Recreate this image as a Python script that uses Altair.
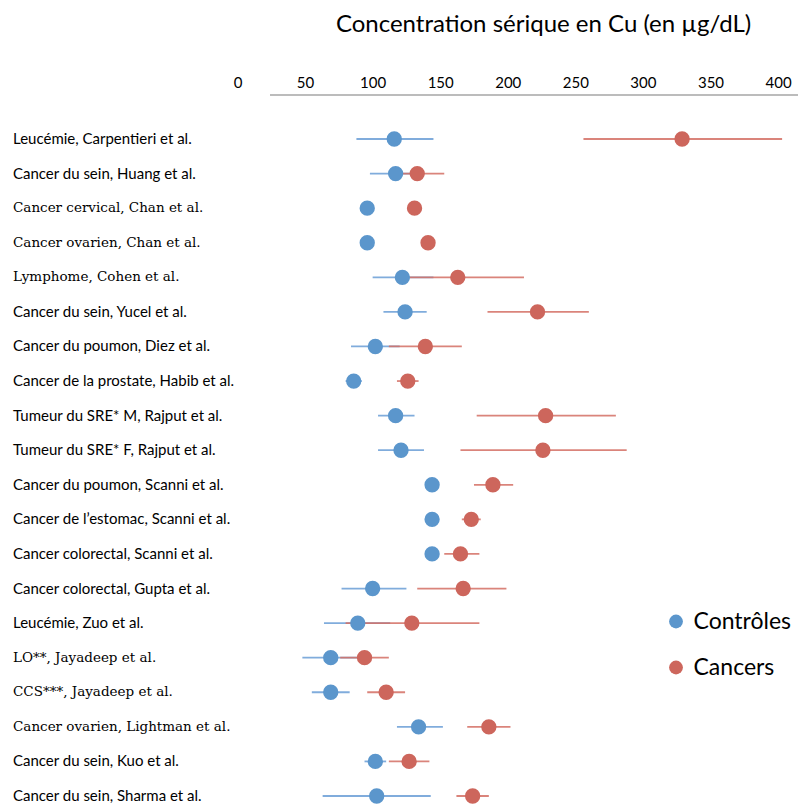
import altair as alt
import pandas as pd

categories = [
    "Leucémie, Carpentieri et al.",
    "Cancer du sein, Huang et al.",
    "Cancer cervical, Chan et al.",
    "Cancer ovarien, Chan et al.",
    "Lymphome, Cohen et al.",
    "Cancer du sein, Yucel et al.",
    "Cancer du poumon, Diez et al.",
    "Cancer de la prostate, Habib et al.",
    "Tumeur du SRE* M, Rajput et al.",
    "Tumeur du SRE* F, Rajput et al.",
    "Cancer du poumon, Scanni et al.",
    "Cancer de l’estomac, Scanni et al.",
    "Cancer colorectal, Scanni et al.",
    "Cancer colorectal, Gupta et al.",
    "Leucémie, Zuo et al.",
    "LO**, Jayadeep et al.",
    "CCS***, Jayadeep et al.",
    "Cancer ovarien, Lightman et al.",
    "Cancer du sein, Kuo et al.",
    "Cancer du sein, Sharma et al.",
]
serif_rows = [2, 3, 4, 15, 16, 17]

ctrl_mean = [116, 117, 96, 96, 122, 124, 102, 86, 117, 121, 144, 144, 144, 100, 89, 69, 69, 134, 102, 103]
ctrl_low = [88, 98, 96, 96, 100, 108, 84, 80, 104, 104, 144, 144, 144, 77, 64, 48, 55, 118, 94, 63]
ctrl_high = [145, 136, 96, 96, 145, 140, 120, 92, 131, 138, 144, 144, 144, 125, 113, 91, 83, 152, 110, 143]

canc_mean = [329, 133, 131, 141, 163, 222, 139, 126, 228, 226, 189, 173, 165, 167, 129, 94, 110, 186, 127, 174]
canc_low = [256, 113, 131, 141, 127, 185, 112, 118, 177, 165, 175, 166, 153, 133, 80, 76, 96, 170, 112, 162]
canc_high = [403, 153, 131, 141, 212, 260, 166, 134, 280, 288, 204, 180, 179, 199, 179, 112, 124, 202, 142, 186]

tick_values = [0, 50, 100, 150, 200, 250, 300, 350, 400]
groups = ["Contrôles", "Cancers"]
colors = ["#5B96CC", "#CD665C"]
bar_colors = ["#6A9ED6", "#D46E64"]

rows = []
for i, c in enumerate(categories):
    rows.append({"cat": c, "group": groups[0], "mean": ctrl_mean[i], "low": ctrl_low[i], "high": ctrl_high[i]})
    rows.append({"cat": c, "group": groups[1], "mean": canc_mean[i], "low": canc_low[i], "high": canc_high[i]})
df = pd.DataFrame(rows)
labels_df = pd.DataFrame({"cat": categories,
                          "serif": [i in serif_rows for i in range(len(categories))]})

xscale = alt.Scale(domain=[0, 414.4], nice=False, zero=False)
yscale = alt.Scale(type="point", domain=categories, range=[44, 701], padding=0)

x_axis = alt.Axis(orient="top", values=tick_values, ticks=False, grid=False, domain=False,
                  labelFont="Lato", labelFontSize=15, labelColor="#000000",
                  labelPadding=5, labelFlush=False, labelOverlap=False,
                  title="Concentration sérique en Cu (en µg/dL)",
                  titleFont="Lato", titleFontSize=24, titleFontWeight="normal",
                  titleColor="#000000", titleX=305.5, titleY=-71,
                  titleBaseline="middle", titleAlign="center")

base = alt.Chart(df)

axis_line = alt.Chart(pd.DataFrame({"a": [0]})).mark_rule(color="#A6A6A6", strokeWidth=1.5).encode(
    x=alt.value(32.5), x2=alt.value(560.5), y=alt.value(0)
)

bars = base.mark_rule(strokeWidth=1.8, opacity=0.85).encode(
    x=alt.X("low:Q", scale=xscale, axis=x_axis),
    x2="high:Q",
    y=alt.Y("cat:N", scale=yscale, axis=None),
    color=alt.Color("group:N", scale=alt.Scale(domain=groups, range=bar_colors), legend=None),
)

dots = base.mark_point(filled=True, shape="circle", size=235, opacity=1).encode(
    x=alt.X("mean:Q", scale=xscale),
    y=alt.Y("cat:N", scale=yscale, axis=None),
    fill=alt.Fill("group:N", scale=alt.Scale(domain=groups, range=colors),
                  legend=alt.Legend(title=None, orient="none", legendX=427, legendY=515,
                                    symbolType="circle", symbolSize=190, symbolStrokeWidth=0,
                                    labelFont="Lato", labelFontSize=23, labelColor="#000000",
                                    rowPadding=22, labelOffset=6)),
)

sans_labels = alt.Chart(labels_df).transform_filter("!datum.serif").mark_text(
    align="left", baseline="middle", font="Lato", fontSize=15, color="#000000"
).encode(x=alt.value(-224.5), y=alt.Y("cat:N", scale=yscale, axis=None), text="cat:N")

serif_labels = alt.Chart(labels_df).transform_filter("datum.serif").mark_text(
    align="left", baseline="middle", font="DejaVu Serif", fontSize=13.5, color="#000000"
).encode(x=alt.value(-224.5), y=alt.Y("cat:N", scale=yscale, axis=None), text="cat:N")

chart = alt.layer(axis_line, bars, dots, sans_labels, serif_labels).properties(
    width=560, height=711,
    padding={"left": 229.5, "top": 87, "right": 0, "bottom": 0},
    autosize=alt.AutoSizeParams(type="none"),
).configure_view(stroke=None).resolve_scale(color="independent")

chart.save("out.html", embed_options={"renderer": "svg", "actions": False})
